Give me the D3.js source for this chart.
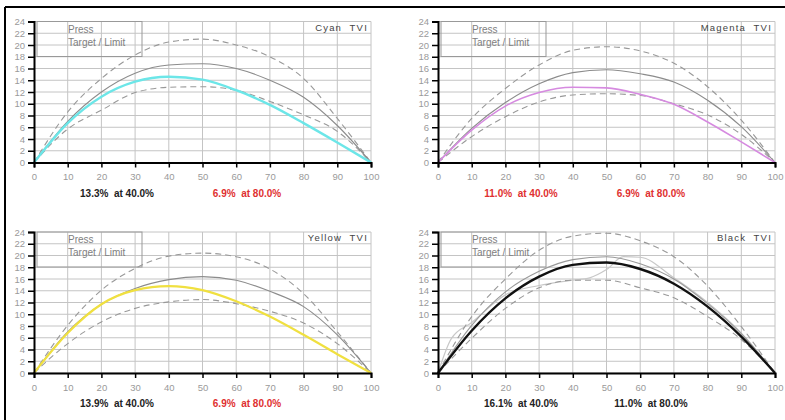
<!DOCTYPE html>
<html>
<head>
<meta charset="utf-8">
<script src="https://d3js.org/d3.v7.min.js"></script>
<style>
  body { margin: 0; background: #fff; }
  svg { display: block; font-family: "Liberation Sans", Arial, sans-serif; }
  text { white-space: pre; }
</style>
</head>
<body>
<svg id="chart" width="785" height="420"></svg>
<script>
// tone values (x axis) and TVI values
var tones = [0, 10, 20, 30, 40, 50, 60, 70, 80, 90, 100];
var xTicks = [0, 10, 20, 30, 40, 50, 60, 70, 80, 90, 100];
var yTicks = [0, 2, 4, 6, 8, 10, 12, 14, 16, 18, 20, 22, 24];

var cyanTarget = [0, 7.0, 12.0, 15.2, 16.6, 16.8, 16.0, 14.0, 11.1, 6.3, 0];
var cyanUpper  = [0, 8.6, 14.3, 18.3, 20.5, 21.0, 20.0, 18.0, 14.3, 7.5, 0];
var cyanLower  = [0, 5.7, 8.9, 11.9, 12.8, 12.9, 12.3, 10.4, 8.1, 5.3, 0];
var cyanPress  = [0, 6.7, 11.2, 13.75, 14.6, 14.1, 12.3, 9.8, 6.7, 3.4, 0];

var magentaTarget = [0, 5.8, 10.2, 13.4, 15.3, 15.8, 15.1, 13.7, 10.6, 6.1, 0];
var magentaUpper  = [0, 7.5, 12.6, 16.6, 19.1, 19.7, 19.0, 16.9, 12.9, 7.2, 0];
var magentaLower  = [0, 4.4, 7.8, 10.3, 11.5, 11.7, 11.4, 10.0, 8.1, 4.8, 0];
var magentaPress  = [0, 5.5, 9.6, 11.9, 12.8, 12.7, 11.6, 9.9, 6.9, 3.5, 0];

var yellowTarget = [0, 7.0, 11.7, 14.4, 15.9, 16.4, 15.8, 13.9, 11.3, 6.5, 0];
var yellowUpper  = [0, 8.1, 14.1, 17.8, 19.9, 20.4, 19.8, 17.7, 13.5, 7.0, 0];
var yellowLower  = [0, 5.0, 8.7, 11.0, 12.1, 12.5, 11.8, 10.5, 8.5, 5.0, 0];
var yellowPress  = [0, 6.8, 11.7, 14.1, 14.8, 14.1, 12.2, 9.6, 6.5, 3.2, 0];

var blackTarget = [0, 8.1, 13.8, 17.3, 19.3, 19.8, 18.6, 16.0, 11.8, 6.7, 0];
var blackUpper  = [0, 9.6, 16.0, 20.9, 23.3, 23.8, 22.5, 19.8, 14.8, 7.9, 0];
var blackLower  = [0, 5.9, 11.0, 14.5, 15.8, 15.8, 14.5, 12.8, 9.6, 5.7, 0];
var blackPress  = [0, 7.2, 12.7, 16.4, 18.4, 18.8, 17.7, 15.2, 11.3, 6.2, 0];
// faint extra reference line in the black panel
var blackRefTones = [0, 4, 10, 20, 30, 40, 45, 50, 55, 60, 70, 80, 90, 100];
var blackRef      = [0, 5.9, 8.6, 13.3, 14.9, 15.8, 16.2, 17.6, 19.8, 19.7, 16.2, 12.0, 6.8, 0];

var titles = ["Cyan  TVI", "Magenta  TVI", "Yellow  TVI", "Black  TVI"];
var noteLeft  = ["13.3%  at 40.0%", "11.0%  at 40.0%", "13.9%  at 40.0%", "16.1%  at 40.0%"];
var noteRight = ["6.9%  at 80.0%", "6.9%  at 80.0%", "6.9%  at 80.0%", "11.0%  at 80.0%"];
var noteLeftRed  = [false, true, false, false];
var noteRightRed = [true, true, true, false];

var svg = d3.select("#chart");

// outer frame (top and left edges only are visible)
svg.append("line").attr("x1", 5).attr("y1", 7).attr("x2", 785).attr("y2", 7)
   .attr("stroke", "#000").attr("stroke-width", 2);
svg.append("line").attr("x1", 5).attr("y1", 7).attr("x2", 5).attr("y2", 420)
   .attr("stroke", "#000").attr("stroke-width", 2);

var panels = [
  {x0: 34,  x1: 371, y0: 162.5, y1: 21.5, target: cyanTarget, upper: cyanUpper, lower: cyanLower, press: cyanPress, color: "#6ce6e8", w: 2.4},
  {x0: 438, x1: 775, y0: 162.5, y1: 21.5, target: magentaTarget, upper: magentaUpper, lower: magentaLower, press: magentaPress, color: "#d68ae0", w: 1.6},
  {x0: 34,  x1: 371, y0: 373,   y1: 232,  target: yellowTarget, upper: yellowUpper, lower: yellowLower, press: yellowPress, color: "#f0e040", w: 2.2},
  {x0: 438, x1: 775, y0: 373,   y1: 232,  target: blackTarget, upper: blackUpper, lower: blackLower, press: blackPress, color: "#111", w: 2.4}
];

panels.forEach(function(p, i) {
  var x = d3.scaleLinear().domain([0, 100]).range([p.x0, p.x1]);
  var y = d3.scaleLinear().domain([0, 24]).range([p.y0, p.y1]);
  var g = svg.append("g");

  // grid
  g.selectAll(".hg").data(yTicks).join("line")
    .attr("x1", p.x0).attr("x2", p.x1)
    .attr("y1", function(d) { return y(d); }).attr("y2", function(d) { return y(d); })
    .attr("stroke", "#c4c4c4").attr("stroke-width", 1);
  g.selectAll(".vg").data(xTicks.slice(1)).join("line")
    .attr("x1", function(d) { return x(d); }).attr("x2", function(d) { return x(d); })
    .attr("y1", p.y1).attr("y2", p.y0)
    .attr("stroke", "#c4c4c4").attr("stroke-width", 1);

  // legend box (transparent)
  g.append("rect").attr("x", p.x0 + 3).attr("y", p.y1)
    .attr("width", 105).attr("height", 35)
    .attr("fill", "none").attr("stroke", "#999").attr("stroke-width", 1);
  g.append("text").attr("x", p.x0 + 34).attr("y", p.y1 + 11)
    .attr("font-size", 10).attr("fill", "#808080").text("Press");
  g.append("text").attr("x", p.x0 + 34).attr("y", p.y1 + 24)
    .attr("font-size", 10).attr("fill", "#808080").text("Target / Limit");

  // title
  g.append("text").attr("x", p.x1 - 3).attr("y", p.y1 + 9)
    .attr("text-anchor", "end").attr("font-size", 9.5).attr("letter-spacing", 1.2)
    .attr("fill", "#444").text(titles[i]);

  var line = d3.line()
    .x(function(d, j) { return x(tones[j]); })
    .y(function(d) { return y(d); })
    .curve(d3.curveMonotoneX);

  if (i === 3) {
    var refLine = d3.line()
      .x(function(d, j) { return x(blackRefTones[j]); })
      .y(function(d) { return y(d); })
      .curve(d3.curveMonotoneX);
    g.append("path").attr("d", refLine(blackRef))
      .attr("fill", "none").attr("stroke", "#c8c8c8").attr("stroke-width", 1.2);
  }

  [p.upper, p.lower].forEach(function(s) {
    g.append("path").attr("d", line(s)).attr("fill", "none")
      .attr("stroke", "#999").attr("stroke-width", 1.1).attr("stroke-dasharray", "6,4");
  });
  g.append("path").attr("d", line(p.target)).attr("fill", "none")
    .attr("stroke", i === 3 ? "#999" : "#8c8c8c").attr("stroke-width", 1.1);
  g.append("path").attr("d", line(p.press)).attr("fill", "none")
    .attr("stroke", p.color).attr("stroke-width", p.w);

  // axes
  var yAxis = d3.axisLeft(y).tickValues(yTicks).tickSize(6).tickPadding(3);
  var ya = g.append("g").attr("transform", "translate(" + p.x0 + ",0)").call(yAxis);
  var xAxis = d3.axisBottom(x).tickValues(xTicks).tickSize(5).tickPadding(6);
  var xa = g.append("g").attr("transform", "translate(0," + p.y0 + ")").call(xAxis);
  [ya, xa].forEach(function(a) {
    a.select(".domain").attr("stroke", "#000").attr("stroke-width", 2);
    a.selectAll(".tick line").attr("stroke", "#000").attr("stroke-width", 1.5);
    a.selectAll(".tick text").attr("fill", "#9a9a9a").attr("font-size", 9.5)
      .attr("font-family", "\"Liberation Sans\", Arial, sans-serif");
  });

  // notes under each panel
  var noteY = p.y0 + 34;
  g.append("text").attr("x", p.x0 + 83).attr("y", noteY).attr("text-anchor", "middle")
    .attr("font-size", 10).attr("font-weight", "bold")
    .attr("fill", noteLeftRed[i] ? "#e03030" : "#222").text(noteLeft[i]);
  g.append("text").attr("x", p.x0 + 213).attr("y", noteY).attr("text-anchor", "middle")
    .attr("font-size", 10).attr("font-weight", "bold")
    .attr("fill", noteRightRed[i] ? "#e03030" : "#222").text(noteRight[i]);
});
</script>
</body>
</html>
